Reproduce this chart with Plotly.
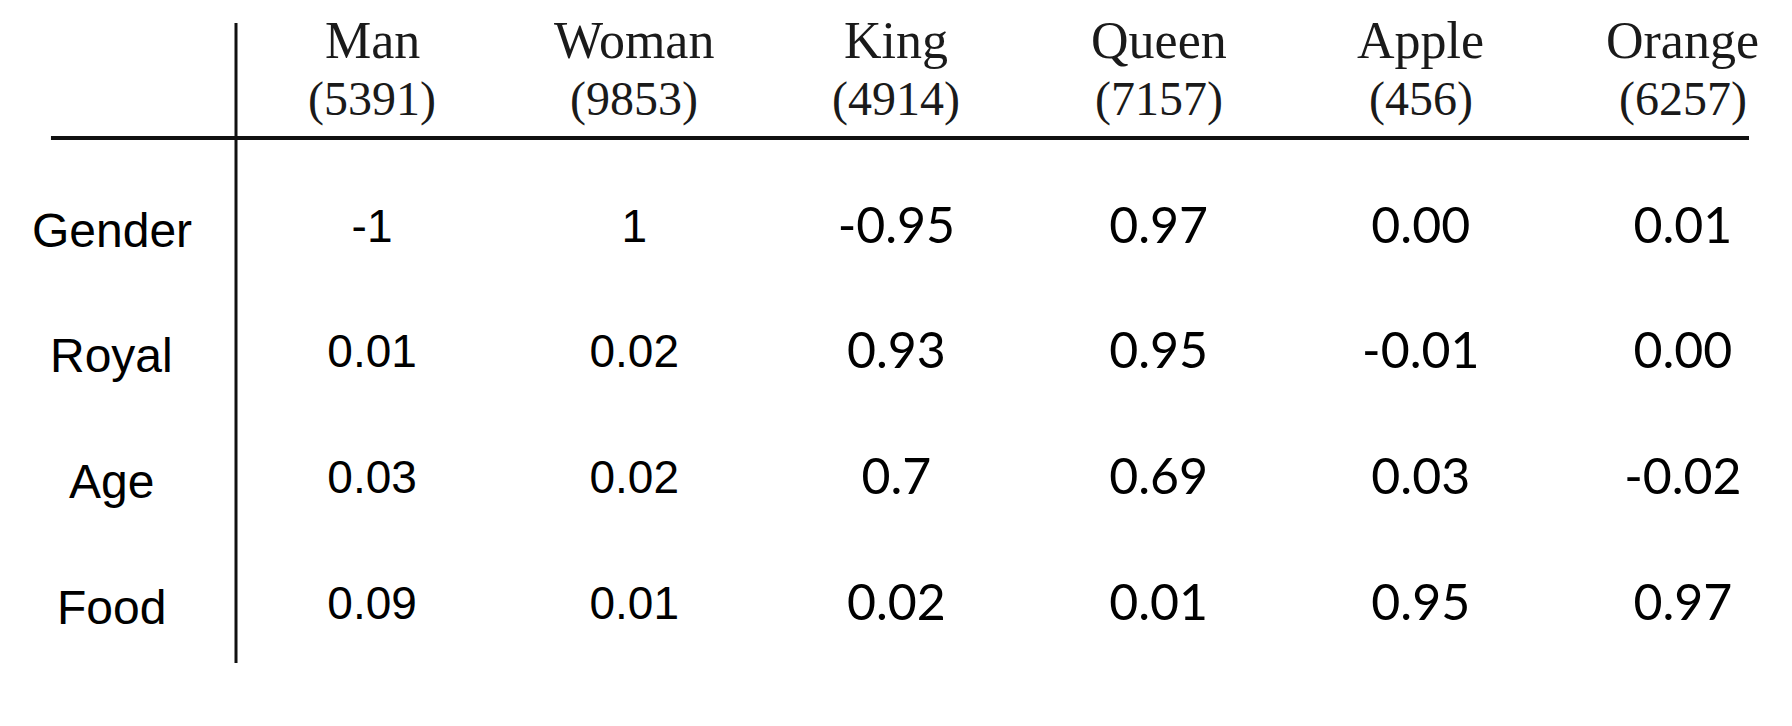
"""Word embedding feature table: features vs words, drawn as a text grid."""
import plotly.graph_objects as go

# column words and their vocabulary indices
words = ["Man", "Woman", "King", "Queen", "Apple", "Orange"]
word_ids = [5391, 9853, 4914, 7157, 456, 6257]

# feature rows
features = ["Gender", "Royal", "Age", "Food"]

# cell values as printed, one list per feature row
gender = ["-1", "1", "-0.95", "0.97", "0.00", "0.01"]
royal = ["0.01", "0.02", "0.93", "0.95", "-0.01", "0.00"]
age = ["0.03", "0.02", "0.7", "0.69", "0.03", "-0.02"]
food = ["0.09", "0.01", "0.02", "0.01", "0.95", "0.97"]

rows = [gender, royal, age, food]

# the first two columns were typed in a different font than the rest
SPLIT = 2
LEFT_FONT = "Liberation Sans, Arial, Helvetica, sans-serif"
RIGHT_FONT = "Lato, Open Sans, sans-serif"
HEAD_FONT = "Liberation Serif, DejaVu Serif, serif"

fig = go.Figure()


def add_block(cols, font, size):
    xs, ys, txt = [], [], []
    for feat, vals in zip(features, rows):
        for c in cols:
            xs.append(words[c])
            ys.append(feat)
            txt.append(vals[c])
    fig.add_trace(go.Scatter(
        x=xs, y=ys, text=txt, mode="text",
        textposition="middle center",
        textfont=dict(family=font, size=size, color="#000"),
        hoverinfo="skip", showlegend=False, cliponaxis=False,
    ))


add_block(range(SPLIT), LEFT_FONT, 46)
add_block(range(SPLIT, len(words)), RIGHT_FONT, 50)

# column headers: word on top, index in brackets below
for w, i in zip(words, word_ids):
    fig.add_annotation(x=w, xref="x", y=1.185, yref="paper", text=w,
                       showarrow=False, yanchor="middle",
                       font=dict(family=HEAD_FONT, size=52, color="#1a1a1a"))
    fig.add_annotation(x=w, xref="x", y=1.074, yref="paper", text=f"({i})",
                       showarrow=False, yanchor="middle",
                       font=dict(family=HEAD_FONT, size=48, color="#1a1a1a"))

# row labels, centred in the left gutter
for feat in features:
    fig.add_annotation(
        x=-0.082, xref="paper", y=feat, yref="y",
        text=feat, showarrow=False, xanchor="center",
        font=dict(family=LEFT_FONT, size=48, color="#000"),
    )

# table rules: vertical line after the row labels, horizontal line under header
fig.add_shape(type="line", xref="paper", yref="paper",
              x0=0, x1=0, y0=0, y1=1.219, line=dict(color="#111", width=3))
fig.add_shape(type="line", xref="paper", yref="paper",
              x0=-0.1223, x1=1.0, y0=1.0, y1=1.0, line=dict(color="#111", width=4))

fig.update_xaxes(
    type="category", categoryorder="array", categoryarray=words,
    range=[-0.519, 5.252],
    showgrid=False, zeroline=False, showline=False, showticklabels=False,
)
fig.update_yaxes(
    type="category", categoryorder="array", categoryarray=features,
    range=[3.446, -0.736],
    showgrid=False, zeroline=False, showline=False, showticklabels=False,
)

# page body keeps its default 8px margin, so the figure is 16px smaller
fig.update_layout(
    width=1776, height=710,
    margin=dict(l=228, r=35, t=130, b=55),
    plot_bgcolor="white", paper_bgcolor="white",
    showlegend=False,
)

fig.write_html("out.html", config={"displayModeBar": False})
